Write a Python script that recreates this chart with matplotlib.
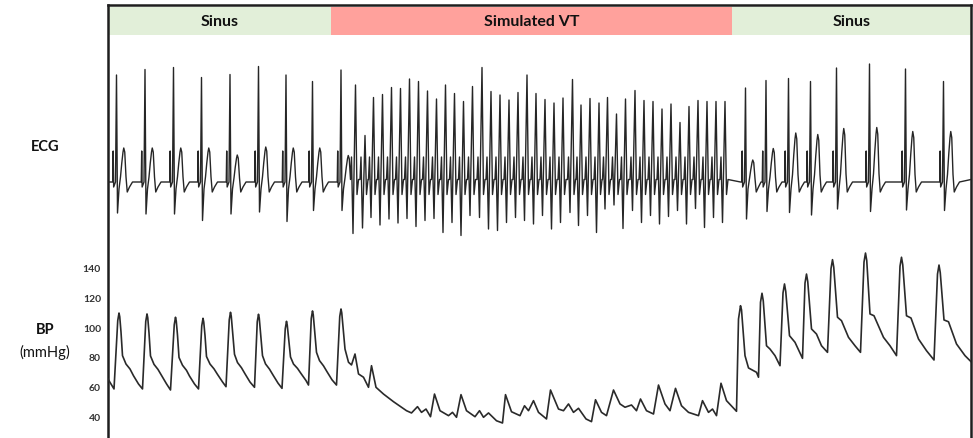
import matplotlib
matplotlib.use("Agg")
import matplotlib.pyplot as plt
from matplotlib.patches import Rectangle

# ---------------- data ----------------
T_END = 17.26  # seconds shown

phase_labels = ["Sinus", "Simulated VT", "Sinus"]
phase_edges = [0.0, 4.46, 12.48, T_END]
phase_colors = ["#e2efd9", "#ffa19c", "#e2efd9"]

# ECG: sinus rhythm (first segment)
sinus1_r_time = [0.17, 0.74, 1.31, 1.87, 2.44, 3.01, 3.56, 4.09, 4.66]
sinus1_r_amp = [2.14, 2.25, 2.29, 2.09, 2.15, 2.31, 2.14, 2.01, 2.24]
sinus1_s_amp = [-0.62, -0.64, -0.64, -0.77, -0.64, -0.60, -0.79, -0.57, -0.57]
sinus1_t_amp = [0.68, 0.68, 0.68, 0.68, 0.54, 0.70, 0.68, 0.68, 0.53]

# ECG: simulated VT
vt_r_time = [4.95, 5.14, 5.31, 5.49, 5.67, 5.85, 6.03, 6.21, 6.39, 6.57,
             6.75, 6.93, 7.11, 7.29, 7.48, 7.66, 7.84, 8.02, 8.20, 8.38,
             8.56, 8.74, 8.92, 9.10, 9.29, 9.46, 9.64, 9.82, 9.99, 10.17,
             10.35, 10.54, 10.72, 10.90, 11.08, 11.26, 11.44, 11.62, 11.80, 11.98,
             12.16, 12.34]
vt_r_amp = [1.94, 0.93, 1.69, 1.75, 1.89, 1.87, 2.06, 2.01, 1.82, 1.66,
            1.94, 1.77, 1.61, 1.91, 2.29, 1.81, 1.74, 1.64, 1.79, 2.14,
            1.77, 1.65, 1.58, 1.68, 2.05, 1.54, 1.67, 1.58, 1.69, 1.36,
            1.66, 1.83, 1.63, 1.61, 1.46, 1.56, 1.19, 1.51, 1.63, 1.61,
            1.61, 1.61]
vt_trough_amp = [-1.03, -0.92, -0.71, -0.86, -0.74, -0.82, -0.73, -0.89, -0.77, -0.73,
                 -1.01, -0.81, -1.07, -0.67, -0.71, -0.94, -0.97, -0.81, -0.71, -0.77,
                 -0.84, -0.67, -0.94, -0.81, -0.61, -0.87, -0.67, -1.01, -0.54, -0.46,
                 -0.93, -0.57, -0.81, -0.67, -0.84, -0.69, -0.57, -0.84, -0.53, -0.91,
                 -0.71, -0.81]

# ECG: sinus rhythm (after VT)
sinus2_r_time = [12.75, 13.16, 13.61, 14.05, 14.57, 15.23, 15.95, 16.71]
sinus2_r_amp = [1.88, 2.03, 2.07, 2.01, 2.28, 2.36, 2.26, 2.01]
sinus2_s_amp = [-0.74, -0.59, -0.61, -0.66, -0.54, -0.59, -0.56, -0.57]
sinus2_t_amp = [0.44, 0.67, 0.98, 0.95, 1.07, 1.09, 1.01, 1.01]

# Beat shapes (offset in s from the R peak)
sinus_shape_dt = [-0.10, -0.075, -0.066, -0.057, -0.02, 0.0, 0.02, 0.05,
                  0.08, 0.105, 0.13, 0.145, 0.165, 0.19, 0.215, 0.26, 0.32]
sinus_shape_kind = ["0", "0", "p", "q", "0", "R", "S", "j",
                    "t1", "t2", "t3", "T", "t3", "t1", "d", "d2", "0"]
sinus_shape_const = {"0": 0.0, "p": 0.62, "q": -0.1, "j": -0.14,
                     "d": -0.2, "d2": -0.1}
sinus_t_fraction = {"t1": 0.15, "t2": 0.55, "t3": 0.88, "T": 1.0}

vt_shape_dt = [-0.10, -0.08, -0.05, 0.0, 0.03, 0.06]
vt_shape_kind = ["b", "m", "X", "R", "a", "b"]
vt_shape_const = {"b": 0.05, "m": 0.5, "a": -0.25}

# Arterial blood pressure trace vertices (time s, mmHg)
bp_time = [0.00,
           0.12, 0.195, 0.22, 0.235, 0.26, 0.29, 0.36, 0.44, 0.51, 0.61,
           0.69, 0.755, 0.78, 0.795, 0.82, 0.85, 0.92, 1.00, 1.07, 1.17,
           1.25, 1.325, 1.35, 1.365, 1.39, 1.42, 1.49, 1.57, 1.63, 1.73,
           1.81, 1.875, 1.90, 1.915, 1.94, 1.97, 2.04, 2.12, 2.19, 2.29,
           2.36, 2.425, 2.45, 2.465, 2.49, 2.53, 2.59, 2.67, 2.74, 2.84,
           2.93, 2.985, 3.01, 3.025, 3.05, 3.09, 3.15, 3.23, 3.30, 3.40,
           3.48, 3.545, 3.57, 3.585, 3.61, 3.65, 3.71, 3.79, 3.86, 3.96,
           4.01, 4.065, 4.09, 4.105, 4.13, 4.17, 4.23, 4.31, 4.38, 4.48,
           4.57, 4.635, 4.66, 4.675, 4.70,
           4.74, 4.81, 4.87, 4.94, 5.01, 5.11, 5.21, 5.27,
           5.36, 5.51, 5.71, 5.97, 6.07, 6.19, 6.27, 6.36, 6.45, 6.53,
           6.64, 6.81, 6.89, 6.97, 7.06, 7.17, 7.34, 7.43, 7.51, 7.61,
           7.77, 7.89, 7.95, 8.07, 8.24, 8.33, 8.41, 8.51, 8.61, 8.77,
           8.85, 9.01, 9.11, 9.21, 9.31, 9.41, 9.56, 9.67, 9.75, 9.87,
           9.97, 10.11, 10.24, 10.34, 10.47, 10.57, 10.65, 10.77, 10.91, 11.01,
           11.14, 11.24, 11.35, 11.47, 11.61, 11.81, 11.89, 12.01, 12.09, 12.17,
           12.26, 12.37, 12.57,
           12.61, 12.65, 12.67, 12.74, 12.81, 12.97, 13.01,
           13.05, 13.08, 13.105, 13.17, 13.24, 13.34, 13.44,
           13.50, 13.53, 13.555, 13.63, 13.74, 13.89,
           13.94, 13.97, 13.995, 14.07, 14.17, 14.27, 14.39,
           14.46, 14.49, 14.515, 14.59, 14.67, 14.81, 14.94, 15.05,
           15.12, 15.15, 15.175, 15.24, 15.32, 15.51, 15.64, 15.77,
           15.84, 15.87, 15.895, 15.97, 16.06, 16.21, 16.37, 16.52,
           16.59, 16.62, 16.645, 16.72, 16.81, 16.97, 17.14, 17.26]
bp_mmhg = [65.3,
           58.7, 104.3, 109.3, 106.8, 96.7, 80.9, 75.3, 72.0, 67.5, 62.0,
           58.7, 103.7, 108.7, 106.2, 96.1, 80.7, 75.1, 71.7, 67.7, 62.1,
           58.0, 101.5, 106.5, 104.0, 94.5, 79.7, 74.5, 71.1, 67.3, 62.0,
           58.7, 100.8, 105.8, 103.3, 94.4, 80.3, 75.3, 72.1, 68.4, 63.4,
           60.2, 104.8, 109.8, 107.3, 97.3, 81.8, 76.3, 72.8, 68.8, 63.3,
           59.8, 103.5, 108.5, 106.0, 96.1, 80.9, 75.4, 71.9, 68.0, 62.6,
           59.1, 98.8, 103.8, 101.3, 93.2, 80.0, 75.3, 72.4, 69.0, 64.3,
           61.3, 105.7, 110.7, 108.2, 98.3, 83.1, 77.6, 74.1, 70.2, 64.8,
           61.3, 107.0, 112.0, 109.5, 100.0,
           85.3, 76.5, 74.7, 82.0, 68.7, 66.5, 59.8, 74.2,
           59.8, 55.3, 50.2, 44.2, 42.7, 46.9, 43.1, 45.3, 40.2, 55.3,
           44.2, 40.9, 43.1, 39.8, 54.9, 44.2, 40.2, 44.2, 39.8, 42.7,
           37.5, 36.0, 54.9, 43.5, 40.9, 47.5, 44.2, 50.9, 43.1, 38.7,
           58.0, 45.3, 44.2, 48.7, 43.1, 45.8, 38.7, 36.9, 51.5, 43.1,
           40.9, 58.0, 48.7, 46.5, 48.0, 44.2, 52.0, 44.2, 42.0, 61.3,
           48.7, 44.2, 59.1, 47.5, 43.1, 40.9, 50.9, 43.1, 45.3, 40.9,
           62.5, 50.9, 43.8,
           105.3, 114.2, 111.5, 80.9, 72.7, 69.8, 66.5,
           116.5, 122.5, 117.5, 87.5, 85.3, 80.9, 74.2,
           122.7, 128.7, 123.7, 94.2, 89.8, 79.1,
           129.3, 135.3, 130.3, 98.7, 95.3, 87.5, 83.1,
           138.9, 144.9, 139.9, 106.5, 104.2, 93.1, 87.5, 83.1,
           143.3, 149.3, 144.3, 108.7, 107.5, 93.1, 87.5, 80.9,
           140.5, 146.5, 141.5, 107.5, 106.0, 92.0, 84.2, 78.0,
           135.3, 141.3, 136.3, 104.7, 103.5, 88.7, 80.9, 76.9]
bp_ticks = [40, 60, 80, 100, 120, 140]

# ---------------- build ECG polyline from the beat measurements ----------------
beats = []
for tr, r, s, ta in zip(sinus1_r_time, sinus1_r_amp, sinus1_s_amp, sinus1_t_amp):
    beats.append(("sinus", tr, r, s, ta))
for tr, r, tro in zip(vt_r_time, vt_r_amp, vt_trough_amp):
    beats.append(("vt", tr, r, tro, 0.0))
for tr, r, s, ta in zip(sinus2_r_time, sinus2_r_amp, sinus2_s_amp, sinus2_t_amp):
    beats.append(("sinus", tr, r, s, ta))
beats.sort(key=lambda b: b[1])


def beat_vertices(kind, tr, r, s, ta):
    pts = []
    if kind == "sinus":
        for dt, k in zip(sinus_shape_dt, sinus_shape_kind):
            if k == "R":
                v = r
            elif k == "S":
                v = s
            elif k in sinus_t_fraction:
                v = sinus_t_fraction[k] * ta
            else:
                v = sinus_shape_const[k]
            pts.append((tr + dt, v))
    else:
        for dt, k in zip(vt_shape_dt, vt_shape_kind):
            if k == "R":
                v = r
            elif k == "X":
                v = s
            else:
                v = vt_shape_const[k]
            pts.append((tr + dt, v))
    return pts


ecg_t = [0.0]
ecg_v = [0.0]
all_pts = [beat_vertices(*b) for b in beats]
for i, pts in enumerate(all_pts):
    nxt = all_pts[i + 1][0][0] if i + 1 < len(all_pts) else T_END
    for t, v in pts:
        if ecg_t[-1] < t < nxt:
            ecg_t.append(t)
            ecg_v.append(v)
ecg_t.append(T_END)
ecg_v.append(0.05)

# ---------------- figure ----------------
W, H = 973, 439
fig = plt.figure(figsize=(W / 100, H / 100), dpi=100)

x0, x1 = 108, 971


def fx(px):
    return px / W


def fy(py):
    return 1 - py / H


# frame axes (border + header band)
axf = fig.add_axes([fx(x0), 0, fx(x1) - fx(x0), fy(6)])
axf.set_xlim(0, T_END)
axf.set_ylim(0, 1)
axf.patch.set_alpha(0)
axf.set_xticks([])
axf.set_yticks([])
for side in ["left", "top", "right"]:
    axf.spines[side].set_linewidth(1.8)
    axf.spines[side].set_color("#1e1e1e")
axf.spines["bottom"].set_visible(False)

band_top = (H - 8) / (H - 6)
band_bot = (H - 36) / (H - 6)
for lab, a, b, c in zip(phase_labels, phase_edges[:-1], phase_edges[1:], phase_colors):
    axf.add_patch(Rectangle((a, band_bot), b - a, band_top - band_bot,
                            facecolor=c, edgecolor="none", zorder=0))
    axf.text((a + b) / 2, (band_top + band_bot) / 2, lab, ha="center", va="center",
             fontsize=11.5, fontweight="bold", family=["Lato", "DejaVu Sans"],
             color="#111111")

# ECG axes
ax_ecg = fig.add_axes([fx(x0), fy(250), fx(x1) - fx(x0), fy(40) - fy(250)])
ax_ecg.plot(ecg_t, ecg_v, color="#262626", lw=1.0, solid_joinstyle="round")
ax_ecg.set_xlim(0, T_END)
ax_ecg.set_ylim(-1.34, 2.86)
ax_ecg.axis("off")

# BP axes
ax_bp = fig.add_axes([fx(x0), 0, fx(x1) - fx(x0), fy(250)])
ax_bp.plot(bp_time, bp_mmhg, color="#2a2a2a", lw=1.2, solid_joinstyle="round")
ax_bp.set_xlim(0, T_END)
ax_bp.set_ylim(26, 152)
ax_bp.patch.set_alpha(0)
for side in ["left", "top", "right", "bottom"]:
    ax_bp.spines[side].set_visible(False)
ax_bp.set_xticks([])
ax_bp.set_yticks(bp_ticks)
ax_bp.set_yticklabels([str(v) for v in bp_ticks], fontsize=7.5, fontweight="bold",
                      color="#333333", family=["Lato", "DejaVu Sans"])
ax_bp.tick_params(axis="y", length=0, pad=5)

# row labels
fig.text(fx(45), fy(147), "ECG", ha="center", va="center", fontsize=10.5,
         fontweight="bold", family=["Lato", "DejaVu Sans"], color="#111111")
fig.text(fx(45), fy(330), "BP", ha="center", va="center", fontsize=10.5,
         fontweight="bold", family=["Lato", "DejaVu Sans"], color="#111111")
fig.text(fx(45), fy(352), "(mmHg)", ha="center", va="center", fontsize=10.5,
         family=["Lato", "DejaVu Sans"], color="#111111")

fig.savefig("out.png", dpi=100)
